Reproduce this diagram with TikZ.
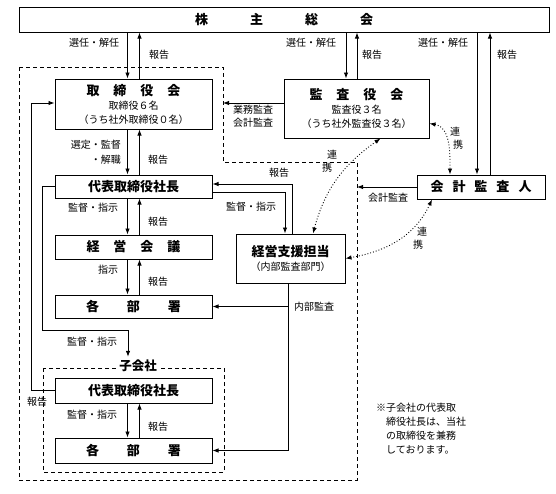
\documentclass[tikz,border=0pt]{standalone}
\usepackage{fontspec}
\setmainfont{Noto Sans CJK JP}
\usetikzlibrary{positioning}
\usetikzlibrary{arrows.meta}
\tikzset{
        % Solid boxes
        box/.style={draw=black, line width=1pt, fill=white, inner sep=0pt, align=center,
                    font=\fontsize{10}{14}\selectfont},
        % Small labels
        lbl/.style={inner sep=0pt, font=\fontsize{10}{12}\selectfont},
        % Connectors
        conn/.style={line width=0.9pt},
        % Dotted links
        link/.style={<->, dotted, line width=0.9pt},
        % Dashed frames
        frame/.style={line width=1pt, dash pattern=on 4pt off 3pt}
}
\newcommand{\ttl}{\bfseries\fontsize{13}{15}\selectfont}

\begin{document}
\begin{tikzpicture}[
            x=1pt, y=-1pt,
            >={Latex[length=6pt,width=4.5pt]}
        ]
            \useasboundingbox (0,0) rectangle (556,493);
            % frames
            \draw[frame] (19,67) -- (223,67) -- (223,162) -- (357,162) -- (357,480) -- (19,480) -- cycle;
            \draw[frame] (43,368) rectangle (224,472);
            \node[inner sep=3pt, fill=white, font=\bfseries\fontsize{12.5}{14}\selectfont] (kogaisha) at (138,366) {子会社};

            % boxes
            \node[box, minimum width=530pt, minimum height=25pt] (sohkai) at (284,19.5)
                {{\ttl 株\hspace{42pt}主\hspace{42pt}総\hspace{42pt}会}};
            \node[box, minimum width=157pt, minimum height=50pt] (tori) at (133.5,104)
                {{\ttl 取\hspace{14pt}締\hspace{14pt}役\hspace{14pt}会}\\取締役６名\\（うち社外取締役０名）};
            \node[box, minimum width=145pt, minimum height=59pt] (kansa) at (356.5,108.5)
                {{\ttl 監\hspace{14pt}査\hspace{14pt}役\hspace{14pt}会}\\監査役３名\\（うち社外監査役３名）};
            \node[box, minimum width=157pt, minimum height=23pt] (daihyo) at (133.5,186.5)
                {{\ttl 代表取締役社長}};
            \node[box, minimum width=157pt, minimum height=24pt] (kaigi) at (133.5,247)
                {{\ttl 経\hspace{14pt}営\hspace{14pt}会\hspace{14pt}議}};
            \node[box, minimum width=157pt, minimum height=23pt] (busho) at (133.5,306.5)
                {{\ttl 各\hspace{28pt}部\hspace{28pt}署}};
            \node[box, minimum width=109pt, minimum height=49pt] (shien) at (290.5,258.5)
                {{\ttl 経営支援担当}\\（内部監査部門）};
            \node[box, minimum width=128pt, minimum height=24pt] (kaikei) at (481,187)
                {{\ttl 会\hspace{9pt}計\hspace{9pt}監\hspace{9pt}査\hspace{9pt}人}};
            \node[box, minimum width=157pt, minimum height=25pt] (kdaihyo) at (133.5,390.5)
                {{\ttl 代表取締役社長}};
            \node[box, minimum width=157pt, minimum height=25pt] (kbusho) at (133.5,450.5)
                {{\ttl 各\hspace{28pt}部\hspace{28pt}署}};

            % free ends on the frame
            \coordinate (gyomu) at (223,103);
            \coordinate (kaikeiend) at (357,187);

            % shareholders meeting
            \draw[conn,->] ([xshift=-6pt]tori.north |- sohkai.south) -- ([xshift=-6pt]tori.north);
            \draw[conn,->] ([xshift=6pt]tori.north) -- ([xshift=6pt]tori.north |- sohkai.south);
            \draw[conn,->] ([xshift=-10.5pt]kansa.north |- sohkai.south) -- ([xshift=-10.5pt]kansa.north);
            \draw[conn,->] ([xshift=0.5pt]kansa.north) -- ([xshift=0.5pt]kansa.north |- sohkai.south);
            \draw[conn,->] ([xshift=-4pt]kaikei.north |- sohkai.south) -- ([xshift=-4pt]kaikei.north);
            \draw[conn,->] ([xshift=9pt]kaikei.north) -- ([xshift=9pt]kaikei.north |- sohkai.south);

            % down the company
            \draw[conn,->] ([xshift=-6pt]tori.south) -- ([xshift=-6pt]daihyo.north);
            \draw[conn,->] ([xshift=6pt]daihyo.north) -- ([xshift=6pt]tori.south);
            \draw[conn,->] ([xshift=-6pt]daihyo.south) -- ([xshift=-6pt]kaigi.north);
            \draw[conn,->] ([xshift=6pt]kaigi.north) -- ([xshift=6pt]daihyo.south);
            \draw[conn,->] ([xshift=-6pt]kaigi.south) -- ([xshift=-6pt]busho.north);
            \draw[conn,->] ([xshift=6pt]busho.north) -- ([xshift=6pt]kaigi.south);
            \draw[conn,->] ([xshift=-6pt]kdaihyo.south) -- ([xshift=-6pt]kbusho.north);
            \draw[conn,->] ([xshift=6pt]kbusho.north) -- ([xshift=6pt]kdaihyo.south);

            % audits
            \draw[conn,->] ([yshift=5.5pt]kansa.west) -- (gyomu);
            \draw[conn,->] (kaikei.west) -- (kaikeiend);
            \draw[conn,->] ([xshift=1.5pt]shien.north) |- ([yshift=2.5pt]daihyo.east);
            \draw[conn,->] ([yshift=-5.5pt]daihyo.east) -| ([xshift=-5.5pt]shien.north);
            \draw[conn,->] ([xshift=-2.5pt]shien.south) |- (kbusho.east);
            \draw[conn,->] ([xshift=-2.5pt]shien.south |- busho.east) -- (busho.east);

            % subsidiary
            \draw[conn,->] (daihyo.west) -- ++(-12,0) |- (128,330) -- ([xshift=-10pt]kogaisha.north);
            \draw[conn,->] (kdaihyo.west) -- ++(-23,0) |- ([yshift=1pt]tori.west);

            % links
            \draw[link] ([yshift=15pt]kansa.south east) to[out=-10,in=90] ([xshift=-31pt]kaikei.north);
            \draw[link] ([xshift=24pt]kansa.south) to[out=-145,in=75] ([xshift=22.5pt]shien.north);
            \draw[link] ([xshift=-49pt]kaikei.south) to[out=-115,in=10] (shien.east);

            % labels
            \node[lbl] (l_sen1) at (94,43) {選任・解任};
            \node[lbl] (l_hou1) at (159,55) {報告};
            \node[lbl] (l_sen2) at (311,43) {選任・解任};
            \node[lbl] (l_hou2) at (372,55) {報告};
            \node[lbl] (l_sen3) at (443,43) {選任・解任};
            \node[lbl] (l_hou3) at (507,55) {報告};
            \node[lbl, align=right, anchor=east, font=\fontsize{10}{15}\selectfont] (l_sentei) at (121,152) {選定・監督\\・解職};
            \node[lbl] (l_hou4) at (158,160) {報告};
            \node[lbl] (l_kan1) at (93,208) {監督・指示};
            \node[lbl] (l_hou5) at (158,222) {報告};
            \node[lbl] (l_shiji) at (108,270) {指示};
            \node[lbl] (l_hou6) at (158,282) {報告};
            \node[lbl] (l_hou7) at (279,173) {報告};
            \node[lbl] (l_kan2) at (251,207) {監督・指示};
            \node[lbl, align=center, font=\fontsize{10}{13}\selectfont] (l_gyomu) at (253,116) {業務監査\\会計監査};
            \node[lbl] (l_kaikei) at (388,198) {会計監査};
            \node[lbl] (l_naibu) at (314,307) {内部監査};
            \node[lbl] (l_ren1) at (455,132) {連};
            \node[lbl] (l_kei1) at (458,145) {携};
            \node[lbl] (l_ren2) at (332,155) {連};
            \node[lbl] (l_kei2) at (327,168) {携};
            \node[lbl] (l_ren3) at (422,232) {連};
            \node[lbl] (l_kei3) at (418,245) {携};
            \node[lbl] (l_kan3) at (92,342) {監督・指示};
            \node[lbl] (l_hou8) at (37,402) {報告};
            \node[lbl] (l_kan4) at (92,415) {監督・指示};
            \node[lbl] (l_hou9) at (158,427) {報告};
            \node[lbl, align=left, anchor=north west, font=\fontsize{10}{14}\selectfont] (note) at (376,403)
                {※子会社の代表取\\　締役社長は、当社\\　の取締役を兼務\\　しております。};
        \end{tikzpicture}
\end{document}
